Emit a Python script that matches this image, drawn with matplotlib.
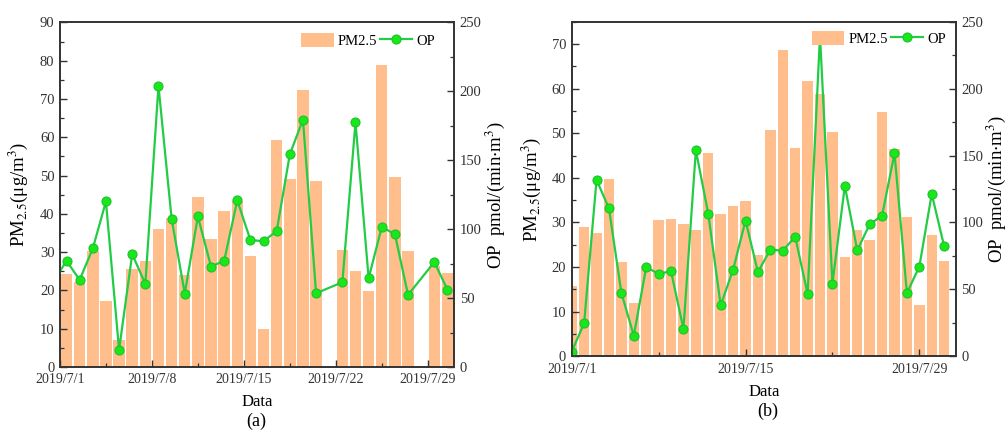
import matplotlib
matplotlib.use('Agg')
import matplotlib.pyplot as plt
import matplotlib.dates as mdates
from matplotlib.ticker import MultipleLocator, FuncFormatter, FixedLocator
import numpy as np
import pandas as pd

plt.rcParams['font.family'] = ['Liberation Serif', 'DejaVu Serif']
plt.rcParams['mathtext.fontset'] = 'stix'

nan = np.nan

# panel (a): 2019/6/30 .. 2019/7/30 (6/30 only shows as the clipped line start)
dates_a = pd.date_range('2019-06-30', '2019-07-30')
pm_a = [nan, 24.3, 22.3, 30.2, 17.3, 7.1, 25.6, 27.6, 36.0, 39.0, 24.1,
        44.5, 33.4, 40.8, 43.3, 28.9, 9.9, 59.2, 49.0, 72.3, 48.7,
        nan, 30.6, 25.0, 19.8, 79.0, 49.5, 30.2, nan, 26.5, 24.5]
op_a = [62, 77.0, 63.2, 86.0, 120.1, 12.4, 81.9, 60.3, 204.0, 107.6, 53.3,
        109.2, 72.9, 77.0, 120.9, 92.1, 91.3, 98.6, 154.3, 179.5, 53.5,
        nan, 61.5, 177.6, 64.4, 101.5, 96.4, 52.3, nan, 76.1, 56.2]

# panel (b): 2019/7/1 .. 2019/7/31
dates_b = pd.date_range('2019-07-01', '2019-07-31')
pm_b = [15.8, 28.9, 27.7, 39.8, 21.1, 11.9, 20.2, 30.5, 30.8, 29.7, 28.3,
        45.5, 31.8, 33.6, 34.8, 22.7, 50.8, 68.6, 46.7, 61.8, 58.8,
        50.3, 22.3, 28.2, 26.1, 54.7, 46.5, 31.3, 11.4, 27.2, 21.3]
op_b = [3.4, 24.7, 131.8, 110.6, 47.5, 15.4, 66.5, 61.7, 63.5, 20.4, 154.0,
        106.4, 38.1, 64.7, 101.4, 63.0, 79.7, 78.9, 89.4, 46.6, 239.6,
        54.3, 127.3, 79.2, 98.6, 105.1, 151.7, 47.3, 67.0, 121.3, 82.2]

bar_color = '#FFBE8C'
line_color = '#22CC44'
dot_color = '#18E818'
spine_color = '#333333'

fig = plt.figure(figsize=(10.06, 4.32), dpi=100)


def panel(rect, dates, pm, op, shift, pm_top, x_end, major_days, minor_days,
          bar_w, tag, tag_xy, leg_anchor, lab_x, lab_y):
    ax = fig.add_axes(rect)
    ax2 = ax.twinx()
    x = mdates.date2num(dates) + shift
    pm = np.array(pm, dtype=float)
    op = np.array(op, dtype=float)
    bars = ax.bar(x, pm, width=bar_w, color=bar_color, linewidth=0)
    m = ~np.isnan(op)
    line, = ax2.plot(x[m], op[m], color=line_color, lw=1.6, marker='o', ms=6.5,
                     mfc=dot_color, mec='#20C030', mew=0.8)

    start = mdates.date2num(pd.Timestamp('2019-07-01'))
    ax.set_xlim(start, start + x_end)
    ax.set_ylim(0, pm_top)
    ax2.set_ylim(0, 250)

    ax.xaxis.set_major_locator(FixedLocator([start + d for d in major_days]))
    ax.xaxis.set_minor_locator(FixedLocator([start + d for d in minor_days]))
    ax.xaxis.set_major_formatter(FuncFormatter(
        lambda v, p: mdates.num2date(v).strftime('%Y/%-m/%-d')))
    ax.yaxis.set_major_locator(MultipleLocator(10))
    ax.yaxis.set_minor_locator(MultipleLocator(5))
    ax2.yaxis.set_major_locator(MultipleLocator(50))
    ax2.yaxis.set_minor_locator(MultipleLocator(25))

    for a in (ax, ax2):
        a.tick_params(which='major', direction='in', length=5, width=1,
                      labelsize=10.5, colors=spine_color, pad=4)
        a.tick_params(which='minor', direction='in', length=3, width=0.9,
                      colors=spine_color)
        for s in a.spines.values():
            s.set_color(spine_color)
            s.set_linewidth(1.2)
    ax.tick_params(axis='x', pad=4.5, labelsize=10)
    ax.tick_params(top=False, right=False, which='both')

    ax.set_xlabel('Data', fontsize=12)
    ax.xaxis.set_label_coords(0.5, lab_x)
    ax.set_ylabel('PM$_{2.5}$(μg/m$^3$)', fontsize=13.5)
    ax2.set_ylabel(r'OP  pmol/(min$\cdot$m$^3$)', fontsize=13.5)
    ax.yaxis.set_label_coords(lab_y[0], 0.5)
    ax2.yaxis.set_label_coords(lab_y[1], 0.5)

    ax2.legend([bars, line], ['PM2.5', 'OP'], loc='upper right', ncol=2,
               frameon=False, fontsize=10.5, bbox_to_anchor=leg_anchor,
               borderaxespad=0, handlelength=2.2, handleheight=1.1,
               handletextpad=0.3, columnspacing=0.2)
    fig.text(tag_xy[0], tag_xy[1], tag, ha='center', va='center', fontsize=13)
    return ax, ax2


panel([0.0596, 0.1505, 0.3917, 0.7975], dates_a, pm_a, op_a, 0.5, 90, 30,
      [0, 7, 14, 21, 28], [3.5, 10.5, 17.5, 24.5], 0.87, '(a)',
      (0.2545, 0.024), (0.968, 0.985), -0.077, (-0.076, 1.075))

panel([0.5683, 0.1752, 0.3817, 0.7746], dates_b, pm_b, op_b, 0.0, 75, 30.93,
      [0, 14, 28], [7, 21], 0.84, '(b)',
      (0.7634, 0.047), (0.99, 0.99), -0.082, (-0.075, 1.075))

fig.savefig('out.png', dpi=100)
